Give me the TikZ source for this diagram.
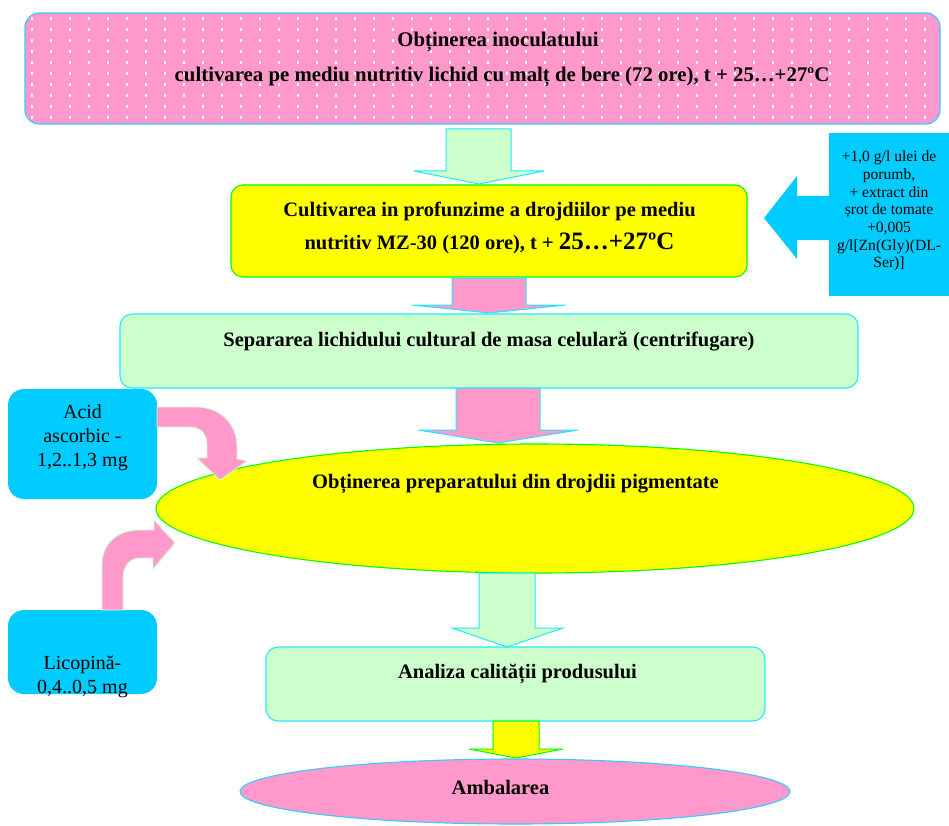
\documentclass[tikz,border=0pt]{standalone}
\usepackage{fontspec}
\setmainfont{Liberation Serif}
\usetikzlibrary{shapes.geometric}
\definecolor{pinkf}{HTML}{FF99CC}
\definecolor{cyanb}{HTML}{33CCFF}
\definecolor{aquab}{HTML}{22E8FF}
\definecolor{greenf}{HTML}{CCFFCC}
\definecolor{yellowf}{HTML}{FFFF00}
\definecolor{limeb}{HTML}{00FF00}
\definecolor{bluef}{HTML}{00CCFF}
\definecolor{mintb}{HTML}{D5F5D0}
\newcommand{\txtB}{\bfseries\fontsize{20.5}{24}\selectfont}
\newcommand{\txtR}{\fontsize{20}{24}\selectfont}
\newcommand{\txtS}{\fontsize{15.6}{17.7}\selectfont}
\begin{document}
\begin{tikzpicture}[x=1pt,y=-1pt,
  boxnode/.style={rectangle, inner sep=0pt, line width=1.1pt},
  ellnode/.style={ellipse, inner sep=0pt, line width=1.1pt},
  garrow/.style={fill=greenf, draw=aquab, line width=1pt, line join=miter},
  parrow/.style={fill=pinkf, draw=aquab, line width=1pt, line join=miter},
  yarrow/.style={fill=yellowf, draw=limeb, line width=1pt, line join=miter},
  barrow/.style={fill=bluef, draw=none},
  carrow/.style={fill=pinkf, draw=mintb, line width=0.9pt, line join=miter},
  lbl/.style={inner sep=0pt, anchor=base}
]
\useasboundingbox (0,0) rectangle (949,826);

% top box with dot pattern
\node[boxnode, fill=pinkf, rounded corners=14pt, minimum width=915pt, minimum height=111pt] (inoc) at (482.5,68.5) {};
\begin{scope}
  \clip[rounded corners=14pt] (25,13) rectangle (940,124);
  \foreach \i in {0,...,48} {
    \foreach \j in {0,...,9} {
      \fill[white] ({31+19*\i},{17+11*\j}) rectangle +(2.4,2.6);
    }
  }
\end{scope}
\node[boxnode, draw=cyanb, rounded corners=14pt, minimum width=915pt, minimum height=111pt] (inocb) at (482.5,68.5) {};

% arrow 1
\draw[garrow] (446,129) -- (511,129) -- (511,171) -- (544,171) -- (479,184) -- (414,171) -- (446,171) -- cycle;

% yellow box
\node[boxnode, fill=yellowf, draw=limeb, rounded corners=12pt, minimum width=516pt, minimum height=92pt] (cult) at (489,231) {};

% blue arrow and box
\draw[barrow] (830,196) -- (797,196) -- (797,176) -- (764,218) -- (797,259) -- (797,240) -- (830,240) -- cycle;
\node[boxnode, fill=bluef, minimum width=120pt, minimum height=163pt] (add) at (889,214.5) {};

% arrow 2
\draw[parrow] (452,278) -- (526,278) -- (526,305) -- (566,305) -- (489,313) -- (412,305) -- (452,305) -- cycle;

% green box 2
\node[boxnode, fill=greenf, draw=aquab, rounded corners=12pt, minimum width=738pt, minimum height=74pt] (sep) at (489,351) {};

% arrow 3
\draw[parrow] (456,388) -- (540,388) -- (540,430) -- (578,430) -- (498,443) -- (418,430) -- (456,430) -- cycle;

% yellow ellipse
\node[ellnode, fill=yellowf, draw=limeb, minimum width=758pt, minimum height=129pt] (prep) at (535,508.5) {};

% left boxes
\node[boxnode, fill=bluef, rounded corners=16pt, minimum width=149pt, minimum height=110pt] (acid) at (82.5,444) {};
\node[boxnode, fill=bluef, rounded corners=16pt, minimum width=149pt, minimum height=84pt] (lico) at (82.5,652) {};

% curved arrows
\draw[carrow] (157,407) -- (195,407) .. controls (222,407) and (237,425) .. (237,447) -- (237,459) -- (247,461) -- (220,480) -- (197,458) -- (207,458) -- (207,445) .. controls (207,433) and (200,427) .. (190,427) -- (157,427) -- cycle;
\draw[carrow] (102,610) -- (102,565) .. controls (102,543) and (118,530) .. (140,530) -- (154,530) -- (154,520) -- (175,543) -- (153,569) -- (153,558) -- (140,558) .. controls (130,558) and (123,566) .. (123,578) -- (123,610) -- cycle;

% arrow 4
\draw[garrow] (479,573) -- (535,573) -- (535,628) -- (563,628) -- (507,647) -- (452,628) -- (479,628) -- cycle;

% green box 3
\node[boxnode, fill=greenf, draw=aquab, rounded corners=12pt, minimum width=499pt, minimum height=74pt] (anal) at (515.5,684) {};

% arrow 5
\draw[yarrow] (493,721) -- (539,721) -- (539,749) -- (563,749) -- (516,758) -- (469,749) -- (493,749) -- cycle;

% pink ellipse
\node[ellnode, fill=pinkf, draw=cyanb, minimum width=550pt, minimum height=65pt] (amb) at (515,791.5) {};

% texts
\node[lbl, font=\bfseries\fontsize{20.8}{24}\selectfont] (t1) at (498,47) {Obținerea inoculatului};
\node[lbl, font=\bfseries\fontsize{20.8}{24}\selectfont] (t2) at (502,82) {cultivarea pe mediu nutritiv lichid cu malț de bere (72 ore), t + 25…+27ºC};
\node[lbl, font=\txtB] (t3) at (489.5,217) {Cultivarea in profunzime a drojdiilor pe mediu};
\node[lbl, font=\txtB] (t4) at (489.5,249) {nutritiv MZ-30 (120 ore), t + {\fontsize{25}{28}\selectfont 25…+27ºC}};
\node[inner sep=0pt, align=center, font=\txtS] (t5) at (889,211) {+1,0 g/l ulei de\\porumb,\\+ extract din\\șrot de tomate\\+0,005\\g/l[Zn(Gly)(DL-\\Ser)]};
\node[lbl, font=\txtB] (t6) at (489,346) {Separarea lichidului cultural de masa celulară (centrifugare)};
\node[lbl, font=\txtB] (t7) at (515.5,488) {Obținerea preparatului din drojdii pigmentate};
\node[lbl, font=\txtB] (t8) at (517.5,678) {Analiza calității produsului};
\node[lbl, font=\txtB] (t9) at (500.5,794) {Ambalarea};
\node[inner sep=0pt, align=center, font=\txtR] (t10) at (82.5,438) {Acid\\ascorbic -\\1,2..1,3 mg};
\node[inner sep=0pt, align=center, font=\txtR] (t11) at (82.5,677) {Licopină-\\0,4..0,5 mg};
\end{tikzpicture}
\end{document}
